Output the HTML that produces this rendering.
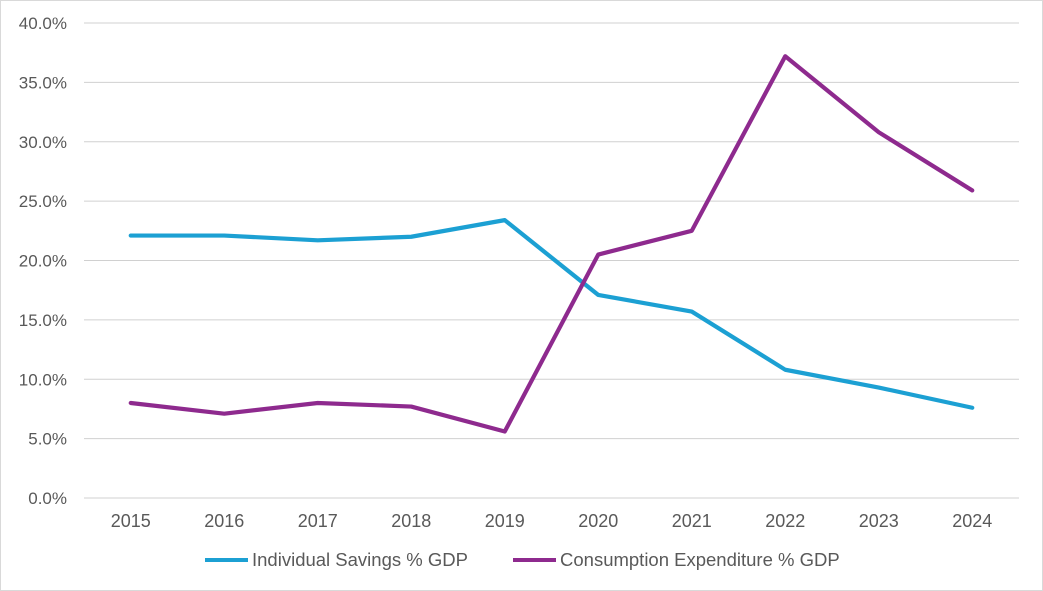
<!DOCTYPE html>
<html><head><meta charset="utf-8"><style>
html,body{margin:0;padding:0;background:#fff}
svg{display:block;font-family:"Liberation Sans",Arial,sans-serif}
</style></head><body>
<svg id="chart" width="1043" height="591" viewBox="0 0 1043 591">
<rect x="0.5" y="0.5" width="1042" height="590" fill="#fff" stroke="#d9d9d9"/>
<g id="grid"></g><g id="yticks"></g><g id="xticks"></g><g id="series"></g>
<g>
<line x1="205" y1="560" x2="248" y2="560" stroke="#1CA0D3" stroke-width="4"/>
<text x="252" y="566" font-size="18.5" fill="#595959">Individual Savings % GDP</text>
<line x1="513" y1="560" x2="556" y2="560" stroke="#8E2A8E" stroke-width="4"/>
<text x="560" y="566" font-size="18.5" fill="#595959">Consumption Expenditure % GDP</text>
</g>
</svg>
<script>
const years=["2015","2016","2017","2018","2019","2020","2021","2022","2023","2024"];
const savings=[22.1,22.1,21.7,22.0,23.4,17.1,15.7,10.8,9.3,7.6];
const consumption=[8.0,7.1,8.0,7.7,5.6,20.5,22.5,37.2,30.8,25.9];
const yTicks=[0,5,10,15,20,25,30,35,40];
const NS="http://www.w3.org/2000/svg";
const x0=84,x1=1019,y0=498,y1=23;
const step=(x1-x0)/years.length;
const xs=i=>x0+step*(i+0.5);
const ys=v=>y0-(v/40)*(y0-y1);
function mk(t,a){const e=document.createElementNS(NS,t);for(const k in a)e.setAttribute(k,a[k]);return e;}
const grid=document.getElementById('grid'),yt=document.getElementById('yticks'),xt=document.getElementById('xticks'),se=document.getElementById('series');
yTicks.forEach(v=>{
 const l=mk('line',{x1:x0,x2:x1,y1:ys(v),y2:ys(v),stroke:'#d0d0d0','stroke-width':1});
 
 
 grid.appendChild(l);
 const t=mk('text',{x:67,y:ys(v)+6,'text-anchor':'end','font-size':17,fill:'#595959'});
 t.textContent=v.toFixed(1)+'%';
 
 
 yt.appendChild(t);
});
years.forEach((y,i)=>{
 const t=mk('text',{x:xs(i),y:527,'text-anchor':'middle','font-size':18,fill:'#595959'});
 t.textContent=y;
 
 
 xt.appendChild(t);
});
function line(vals,color,name){
 const p=mk('polyline',{points:vals.map((v,i)=>xs(i)+','+ys(v)).join(' '),fill:'none',stroke:color,'stroke-width':4.2,'stroke-linejoin':'round','stroke-linecap':'round'});
 
 
 se.appendChild(p);
}
line(savings,'#1CA0D3','savings-line');
line(consumption,'#8E2A8E','consumption-line');
</script>
</body></html>
